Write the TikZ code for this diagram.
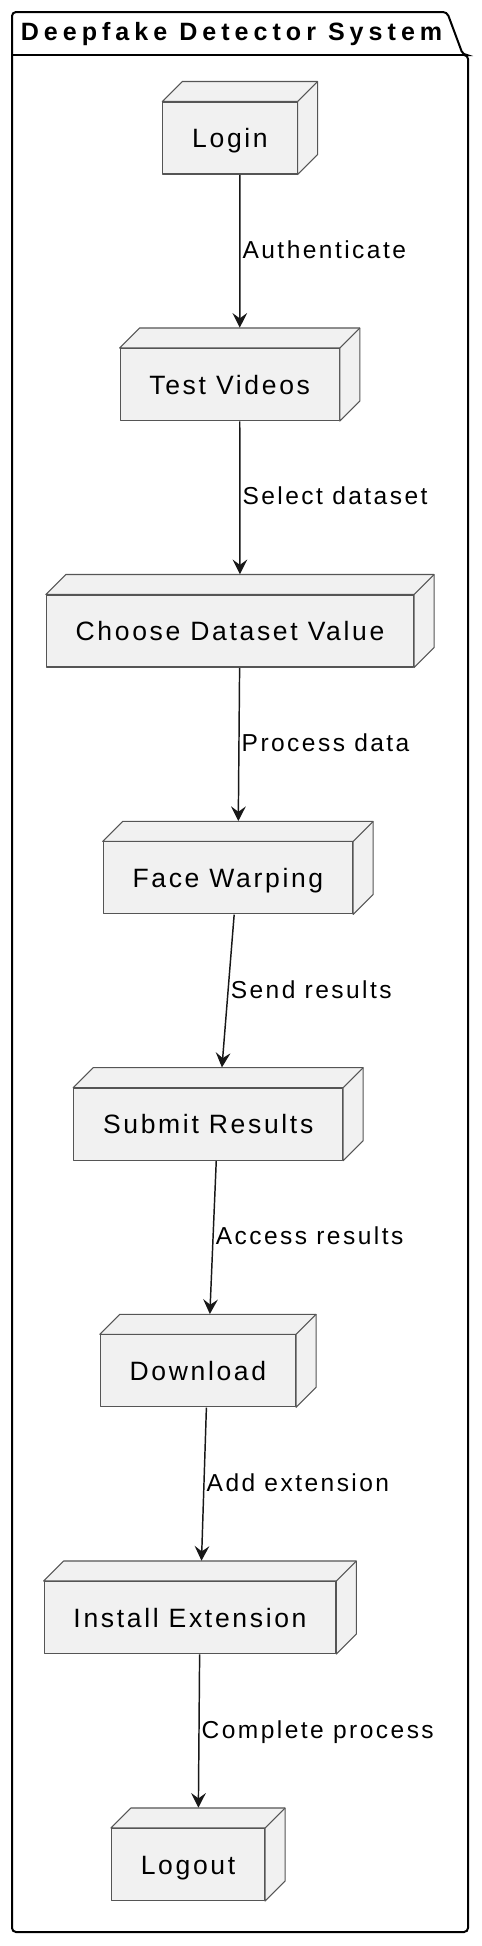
\documentclass[tikz,border=0pt]{standalone}
\usepackage{fontspec}
\setmainfont{Liberation Sans}
\newfontfamily\boxfont{Liberation Sans}[LetterSpace=10]
\newfontfamily\labelfont{Liberation Sans}[LetterSpace=10]
\newfontfamily\titlefont{Liberation Sans}[LetterSpace=20]
\usetikzlibrary{arrows.meta,fit}

\definecolor{boxfill}{HTML}{F1F1F1}
\definecolor{boxline}{HTML}{555555}
\definecolor{arrowline}{HTML}{181818}

\tikzset{
  boxface/.style={draw=boxline, fill=boxfill, line width=0.8pt, line join=round},
  device/.style={boxface, font={\boxfont\fontsize{19.9pt}{24pt}\selectfont},
    minimum height=54pt, inner xsep=22pt, inner ysep=0pt,
    text height=18.5pt, text depth=4pt},
  flow/.style={draw=arrowline, line width=1.1pt,
    -{Stealth[length=11pt, width=11pt, inset=4pt]}},
  flowlabel/.style={font={\labelfont\fontsize{18.4pt}{22pt}\selectfont},
    anchor=west, inner xsep=1.5pt, inner ysep=0pt, text height=15pt, text depth=4.4pt},
  pkgline/.style={draw=black, line width=1.5pt, rounded corners=3pt}
}

% a node box with its top and side faces; #1-box covers the whole solid
\newcommand{\devicenode}[3]{%
  \node[device] (#1) at (#2) {#3};
  \coordinate (#1-ne) at ([shift={(15pt,15pt)}]#1.north east);
  \coordinate (#1-nw) at ([shift={(15pt,15pt)}]#1.north west);
  \coordinate (#1-se) at ([shift={(15pt,15pt)}]#1.south east);
  \draw[boxface] (#1.north west) -- (#1-nw) -- (#1-ne) -- (#1-se)
    -- (#1.south east) -- (#1.north east) -- cycle;
  \draw[boxface] (#1.north east) -- (#1-ne);
  \node[fit=(#1.south west)(#1-ne), inner sep=0pt] (#1-box) {};
}

\begin{document}
\begin{tikzpicture}[x=0.75pt, y=-0.75pt]
  \useasboundingbox (0,0) rectangle (482,1946);

  % package frame
  \draw[pkgline] (12,55) -- (12,12) -- (447,12) -- (463,55) -- (468,55)
    -- (468,1932) -- (12,1932) -- cycle;
  \draw[line width=1.5pt] (12,55) -- (466,55);
  \node[anchor=base west, inner sep=0pt,
    font={\titlefont\bfseries\fontsize{18.8pt}{22pt}\selectfont}] (title) at (20.5,40.7)
    {Deepfake Detector System};

  % steps
  \devicenode{login}{230,138}{Login}
  \devicenode{tests}{229.7,384.5}{Test Videos}
  \devicenode{choose}{230,631}{Choose Dataset Value}
  \devicenode{warp}{227.9,877.9}{Face Warping}
  \devicenode{submit}{208.2,1124.2}{Submit Results}
  \devicenode{download}{197.9,1370.8}{Download}
  \devicenode{install}{190,1617.5}{Install Extension}
  \devicenode{logout}{188,1864.5}{Logout}

  % flow
  \draw[flow] (login-box) -- (tests-box) node[flowlabel, midway] (l1) {Authenticate};
  \draw[flow] (tests-box) -- (choose-box) node[flowlabel, midway] (l2) {Select dataset};
  \draw[flow] (choose-box) -- (warp-box) node[flowlabel, midway] (l3) {Process data};
  \draw[flow] (warp-box) -- (submit-box) node[flowlabel, midway] (l4) {Send results};
  \draw[flow] (submit-box) -- (download-box) node[flowlabel, midway] (l5) {Access results};
  \draw[flow] (download-box) -- (install-box) node[flowlabel, midway] (l6) {Add extension};
  \draw[flow] (install-box) -- (logout-box) node[flowlabel, midway] (l7) {Complete process};
\end{tikzpicture}
\end{document}
